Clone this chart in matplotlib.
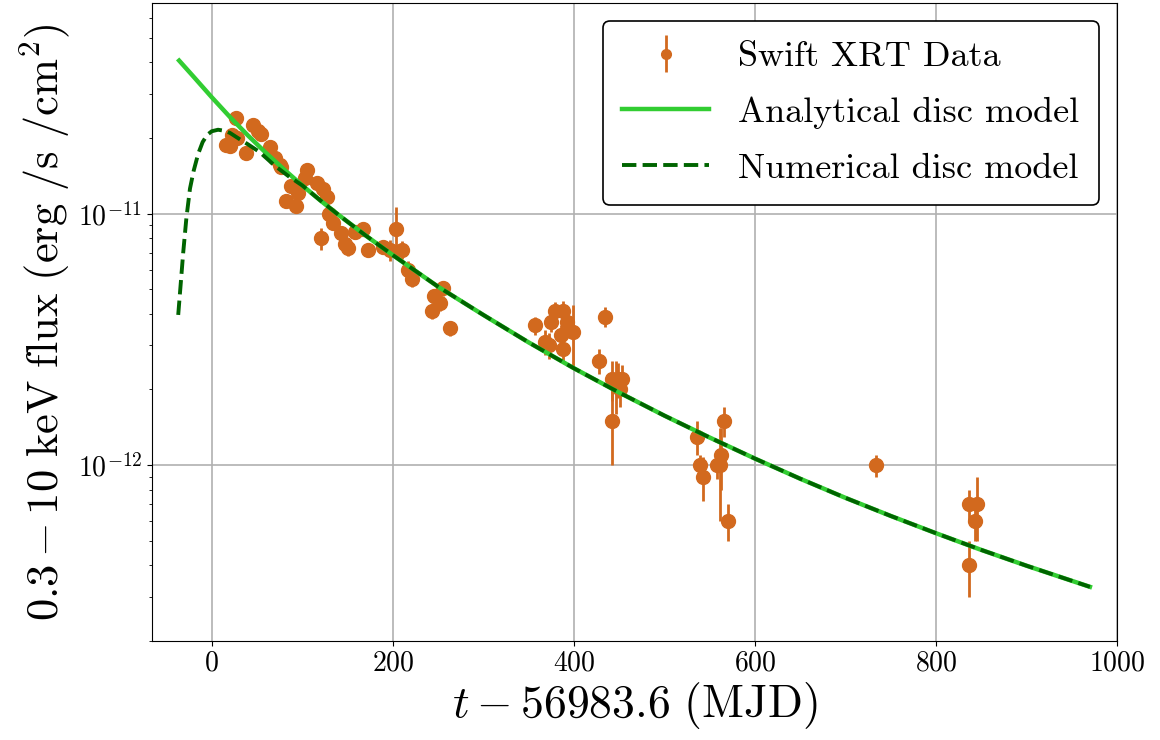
"""Swift XRT light curve with analytical and numerical disc model curves."""

import matplotlib
matplotlib.use('Agg')
import matplotlib.pyplot as plt
import numpy as np
from matplotlib.ticker import NullFormatter

plt.rcParams['font.family'] = 'serif'
plt.rcParams['font.serif'] = ['cmr10']
plt.rcParams['mathtext.fontset'] = 'cm'
plt.rcParams['axes.formatter.use_mathtext'] = True

# Swift XRT points: time since 56983.6 (d), flux and error in 1e-12 erg/s/cm^2
t_data = [16, 20, 22, 26.5, 28, 38, 46, 51, 54, 64, 70, 75, 77, 82.5, 88,
          93.5, 95, 103, 105, 116, 121, 123, 127, 130, 134, 143, 147, 151,
          158, 167, 173, 189, 197, 204, 210, 217, 221, 243, 246, 252, 256,
          263, 357, 368, 373, 375, 379, 386, 388, 388, 392, 399, 428, 434,
          442, 442, 446, 449, 451, 453, 535.5, 539, 543, 558, 561, 563, 566,
          570, 734, 836.5, 836.5, 843, 845]
flux_data = [18.8, 18.6, 20.6, 24.0, 20.0, 17.4, 22.6, 21.3, 20.8, 18.5,
             16.7, 15.6, 15.4, 11.2, 12.9, 10.7, 12.1, 13.9, 15.0, 13.2,
             8.0, 12.5, 11.7, 10.0, 9.2, 8.4, 7.6, 7.3, 8.5, 8.7, 7.2, 7.4,
             7.2, 8.7, 7.2, 6.0, 5.5, 4.1, 4.7, 4.4, 5.05, 3.5, 3.6, 3.1,
             3.0, 3.7, 4.1, 3.3, 4.1, 2.9, 3.7, 3.4, 2.6, 3.9, 2.2, 1.5,
             2.1, 2.2, 2.0, 2.2, 1.3, 1.0, 0.9, 1.0, 1.0, 1.1, 1.5, 0.6, 1.0,
             0.7, 0.4, 0.6, 0.7]
err_data = [1.0, 1.0, 1.1, 1.2, 1.0, 0.9, 1.2, 1.1, 1.1, 1.0, 0.9, 0.8,
            0.8, 0.6, 0.7, 0.6, 0.6, 0.7, 0.8, 0.7, 0.8, 0.7, 0.6, 0.6,
            0.5, 0.5, 0.5, 0.5, 0.5, 0.5, 0.4, 0.4, 0.7, 1.9, 0.6, 0.5,
            0.4, 0.3, 0.3, 0.3, 0.35, 0.25, 0.3, 0.35, 0.35, 0.3, 0.35, 0.3,
            0.4, 0.35, 0.5, 0.95, 0.3, 0.35, 0.4, 0.5, 0.5, 0.35, 0.3, 0.3,
            0.2, 0.1, 0.18, 0.12, 0.4, 0.3, 0.2, 0.1, 0.1, 0.1, 0.1, 0.1,
            0.2]

# analytical disc model (1e-12 units)
t_ana = [-36, -20, 0, 20, 40, 60, 80, 100, 120, 140, 170, 200, 250, 300,
         350, 400, 450, 500, 550, 600, 650, 700, 750, 800, 850, 900, 970]
flux_ana = [40.7, 35.1, 29.1, 24.3, 20.5, 17.46, 15.0, 12.97, 11.3, 9.91,
            8.2, 6.85, 5.13, 3.96, 3.08, 2.43, 1.945, 1.574, 1.288, 1.062,
            0.883, 0.741, 0.628, 0.536, 0.46, 0.398, 0.328]

# numerical disc model (1e-12 units)
t_num = [-37, -34, -31.5, -28, -24, -20, -15, -10, -5, 0, 7, 14, 20, 30, 40,
         53, 70, 85, 100, 120, 140, 170, 200, 250, 300, 350, 400, 450, 500,
         550, 600, 650, 700, 750, 800, 850, 900, 970]
flux_num = [3.96, 5.4, 7.0, 9.6, 12.6, 14.8, 17.3, 19.3, 20.6, 21.3, 21.6,
            21.4, 21.0, 19.9, 18.9, 17.6, 15.5, 14.1, 12.97, 11.3, 9.91, 8.2,
            6.85, 5.13, 3.96, 3.08, 2.43, 1.945, 1.574, 1.288, 1.062, 0.883,
            0.741, 0.628, 0.536, 0.46, 0.398, 0.328]

UNIT = 1e-12

fig = plt.figure(figsize=(11.6, 7.4), dpi=100)
ax = fig.add_axes([0.131, 0.134, 0.832, 0.862])

eb = ax.errorbar(t_data, np.array(flux_data) * UNIT,
                 yerr=np.array(err_data) * UNIT, fmt='o', color='#d2691e',
                 ms=10, elinewidth=2, capsize=0, label='Swift XRT Data',
                 zorder=3)
ana, = ax.plot(t_ana, np.array(flux_ana) * UNIT, '-', color='#32cd32',
               lw=3.2, label='Analytical disc model', zorder=4)
num, = ax.plot(t_num, np.array(flux_num) * UNIT, '--', color='#006400',
               lw=2.8, label='Numerical disc model', zorder=5)

ax.set_yscale('log')
ax.set_xlim(-66, 1000)
ax.set_ylim(2.0e-13, 6.9e-11)
ax.set_xticks(np.arange(0, 1001, 200))
ax.set_yticks([1e-12, 1e-11])
ax.yaxis.set_minor_formatter(NullFormatter())
ax.grid(True, which='major', color='#b0b0b0', lw=1.2)
ax.set_axisbelow(True)
ax.tick_params(labelsize=20)

ax.set_xlabel(r'$t - 56983.6\ \mathrm{(MJD)}$', fontsize=33, labelpad=2)
ax.set_ylabel(r'$0.3 - 10\ \mathrm{keV\ flux\ (erg\ /s\ /cm^2)}$',
              fontsize=32, labelpad=4)

leg = ax.legend(handles=[eb, ana, num], loc='upper right', fontsize=26,
                handlelength=2.4, markerscale=0.7, framealpha=1,
                edgecolor='black', borderpad=0.55, labelspacing=0.65,
                handletextpad=0.8, borderaxespad=0.5)
leg.get_frame().set_linewidth(1.2)

fig.savefig('out.png', dpi=100)
